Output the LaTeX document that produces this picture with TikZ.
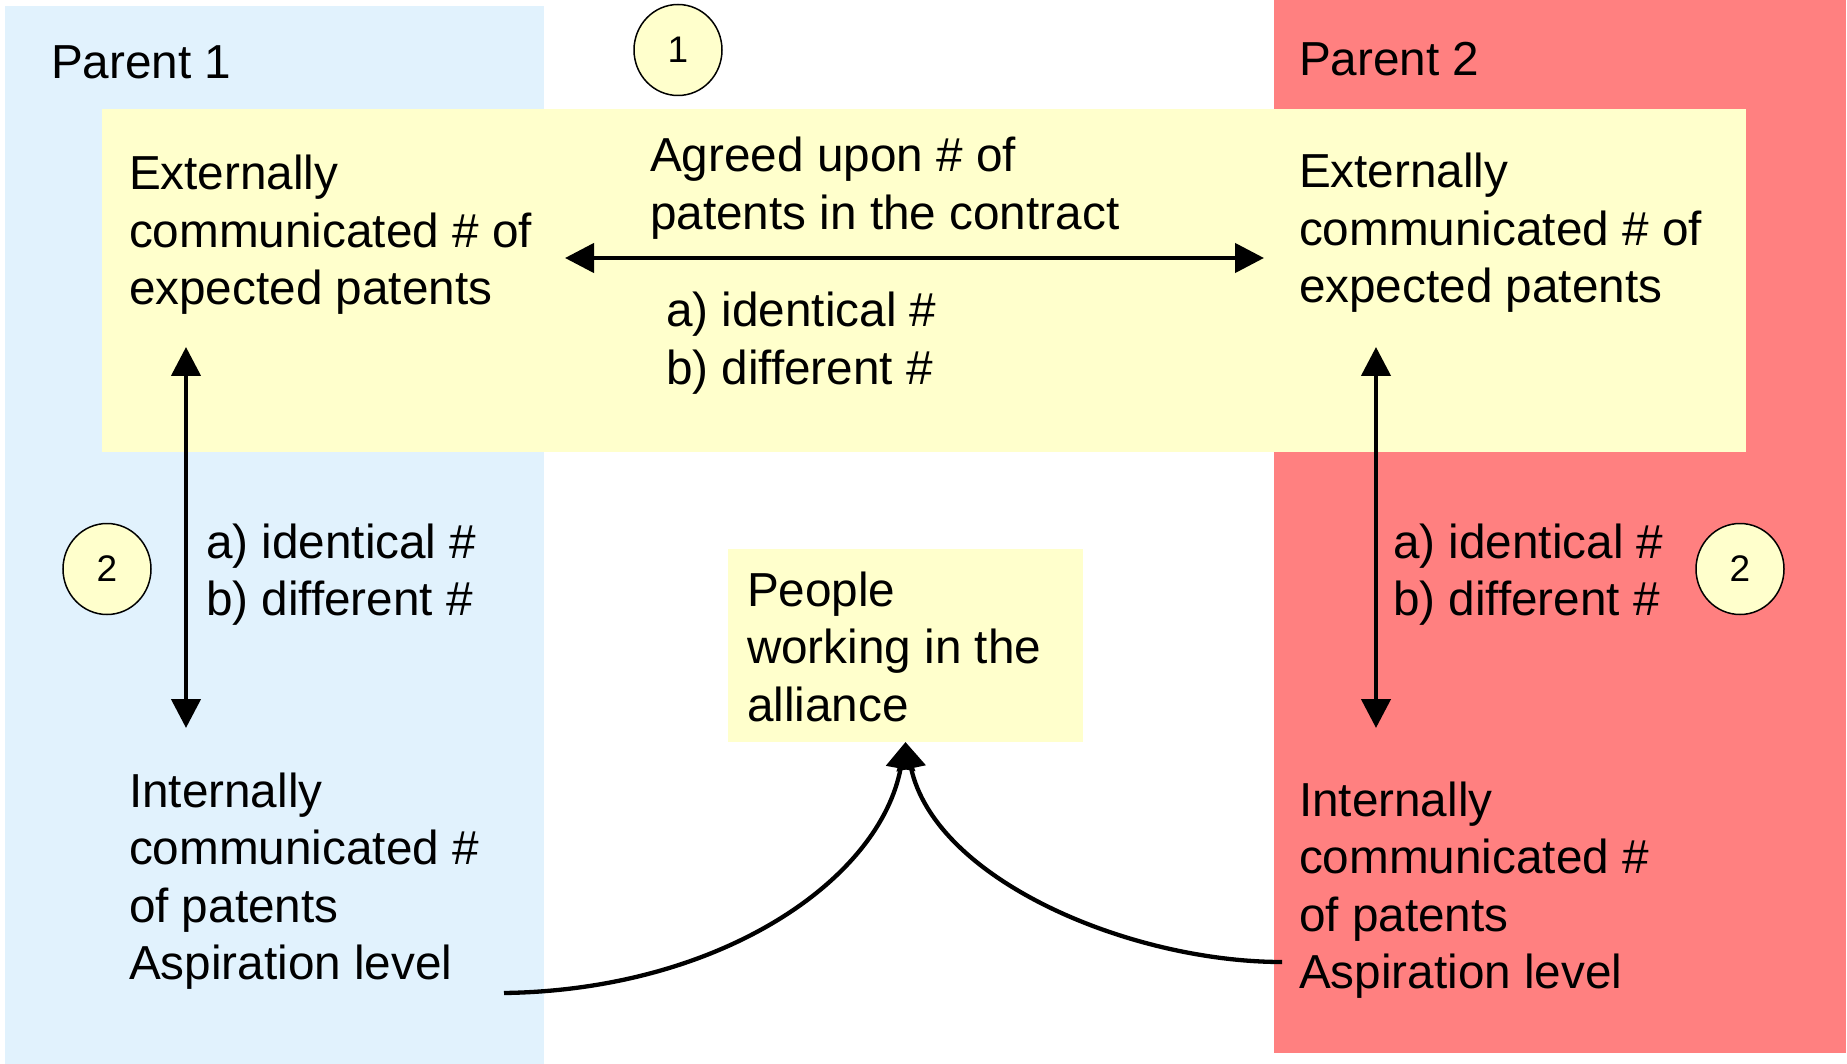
\documentclass[tikz,border=0pt]{standalone}
\usepackage{fontspec}
\setmainfont{Liberation Sans}
\usetikzlibrary{arrows.meta,shapes.geometric}
\definecolor{parentblue}{HTML}{E1F2FD}
\definecolor{parentred}{HTML}{FF8080}
\definecolor{notepad}{HTML}{FFFFCC}
% strut that fixes the top of the first text line at 38pt above its baseline
\newcommand\firstline{\rule{0pt}{38pt}}

\begin{document}
\begin{tikzpicture}[x=1pt,y=-1pt,
  label text/.style={anchor=north west, inner sep=0pt, outer sep=0pt, align=left,
    font=\fontsize{47.7}{57.5}\selectfont},
  marker/.style={ellipse, draw=black, line width=1.5pt, fill=notepad,
    minimum width=88pt, minimum height=91pt, inner sep=0pt,
    font=\fontsize{37}{40}\selectfont},
  notebox/.style={fill=notepad, inner sep=0pt, outer sep=0pt, anchor=north west},
  link/.style={line width=4.5pt,
    {Triangle[length=29pt,width=29pt]}-{Triangle[length=29pt,width=29pt]}},
  feed/.style={line width=4.3pt, -{Triangle[length=27pt,width=29pt]}}]

\useasboundingbox (0,0) rectangle (1847,1064);

% the two parent panels
\fill[parentblue] (5,6) rectangle (544,1064);
\fill[parentred] (1274,0) rectangle (1846,1053);

% shared band of externally communicated numbers
\node[notebox, minimum width=1644pt, minimum height=343pt] (band) at (102,109) {};

% people box
\node[notebox, minimum width=355pt, minimum height=193pt] (people) at (728,549) {};

% panel titles
\node[label text] (p1label) at (51,41) {\firstline Parent 1};
\node[label text] (p2label) at (1299,38) {\firstline Parent 2};

% texts
\node[label text] (ext1) at (129,152)
  {\firstline Externally\\communicated \# of\\expected patents};
\node[label text] (ext2) at (1299,150)
  {\firstline Externally\\communicated \# of\\expected patents};
\node[label text] (agreed) at (650,134)
  {\firstline Agreed upon \# of\\patents in the contract};
\node[label text] (rel1) at (666,289)
  {\firstline a) identical \#\\b) different \#};
\node[label text] (rel2l) at (206,520)
  {\firstline a) identical \#\\b) different \#};
\node[label text] (rel2r) at (1393,520)
  {\firstline a) identical \#\\b) different \#};
\node[label text] (int1) at (129,769)
  {\firstline Internally\\communicated \#\\of patents\\Aspiration level};
\node[label text] (int2) at (1299,778)
  {\firstline Internally\\communicated \#\\of patents\\Aspiration level};
\node[label text] (peopletext) at (747,568)
  {\firstline People\\working in the\\alliance};

% numbered markers
\node[marker] (c1) at (678,50) {1};
\node[marker] (c2l) at (107,569) {2};
\node[marker] (c2r) at (1740,569) {2};

% connector ends
\coordinate (agreeL) at (565,258);
\coordinate (agreeR) at (1264,258);
\coordinate (v1top) at (186,347);
\coordinate (v1bot) at (186,728);
\coordinate (v2top) at (1376,347);
\coordinate (v2bot) at (1376,728);
\coordinate (asp1) at (504,993);
\coordinate (asp2) at (1282,962);

% connectors
\draw[link] (agreeL) -- (agreeR);
\draw[link] (v1top) -- (v1bot);
\draw[link] (v2top) -- (v2bot);
\draw[feed] (asp1) .. controls (720,990) and (880,880) .. (people.south);
\draw[feed] (asp2) .. controls (1130,962) and (935,880) .. (people.south);
\end{tikzpicture}
\end{document}
